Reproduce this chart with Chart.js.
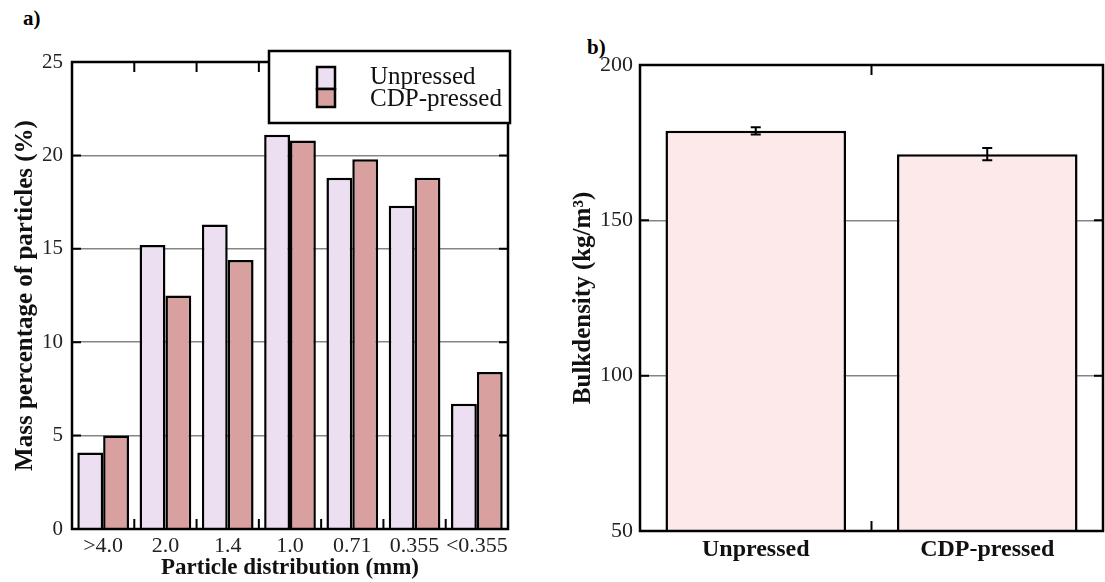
<!DOCTYPE html>
<html>
<head>
<meta charset="utf-8">
<script src="https://cdn.jsdelivr.net/npm/chart.js@4"></script>
<style>
  body { margin: 0; background: #fff; width: 1105px; height: 582px; overflow: hidden; position: relative; font-family: "Liberation Serif", serif; }
  .panel { position: absolute; top: 0; height: 582px; }
  .tag { position: absolute; font-weight: bold; font-size: 21px; }
</style>
</head>
<body>
<div class="tag" style="left:23px;top:6px;">a)</div>
<div class="tag" style="left:587px;top:35px;">b)</div>
<div class="panel" style="left:0;width:560px;"><canvas id="dist"></canvas></div>
<div class="panel" style="left:560px;width:545px;"><canvas id="bulk"></canvas></div>
<script>
// particle size classes (mm)
var sizeClasses = [">4.0", "2.0", "1.4", "1.0", "0.71", "0.355", "<0.355"];
var unpressedPct = [4.1, 15.2, 16.3, 21.1, 18.8, 17.3, 6.7];
var cdpPressedPct = [5.0, 12.5, 14.4, 20.8, 19.8, 18.8, 8.4];
var distTicks = [0, 5, 10, 15, 20, 25];

// bulk density (kg/m3)
var samples = ["Unpressed", "CDP-pressed"];
var bulkDensity = [178.8, 171.3];
var bulkErr = [1.2, 2.0];
var bulkTicks = [50, 100, 150, 200];

var serif = "'Liberation Serif', serif";

// frame + inward ticks, like the original plotting program
var framePlugin = {
  id: "frame",
  afterDatasetsDraw: function (chart) {
    var c = chart.ctx, a = chart.chartArea, x = chart.scales.x, y = chart.scales.y;
    c.save();
    c.strokeStyle = "#000";
    c.lineWidth = 2.5;
    c.strokeRect(a.left, a.top, a.right - a.left, a.bottom - a.top);
    c.lineWidth = 2;
    c.beginPath();
    y.ticks.forEach(function (t) {
      var py = y.getPixelForValue(t.value);
      if (py <= a.top + 1 || py >= a.bottom - 1) return;
      c.moveTo(a.left, py); c.lineTo(a.left + 9, py);
      c.moveTo(a.right, py); c.lineTo(a.right - 9, py);
    });
    for (var i = 0; i < x.ticks.length - 1; i++) {
      var px = (x.getPixelForTick(i) + x.getPixelForTick(i + 1)) / 2;
      c.moveTo(px, a.bottom); c.lineTo(px, a.bottom - 10);
      c.moveTo(px, a.top); c.lineTo(px, a.top + 10);
    }
    c.stroke();
    c.restore();
  }
};

var legendPlugin = {
  id: "boxLegend",
  afterDraw: function (chart) {
    var c = chart.ctx;
    c.save();
    c.fillStyle = "#fff";
    c.fillRect(269, 51, 241, 72);
    c.strokeStyle = "#000";
    c.lineWidth = 2.5;
    c.strokeRect(269, 51, 241, 72);
    var ds = chart.data.datasets;
    var rows = [[67, 22], [89, 18]];
    ds.forEach(function (d, i) {
      c.fillStyle = d.backgroundColor;
      c.fillRect(317, rows[i][0], 18, rows[i][1]);
      c.lineWidth = 2.5;
      c.strokeRect(317, rows[i][0], 18, rows[i][1]);
    });
    c.fillStyle = "#111";
    c.font = "25px " + serif;
    c.textBaseline = "middle";
    c.fillText(ds[0].label, 370, 77);
    c.fillText(ds[1].label, 370, 99);
    c.restore();
  }
};

var errPlugin = {
  id: "errBars",
  afterDatasetsDraw: function (chart) {
    var c = chart.ctx, y = chart.scales.y;
    var meta = chart.getDatasetMeta(0);
    c.save();
    c.strokeStyle = "#000";
    c.lineWidth = 2;
    meta.data.forEach(function (bar, i) {
      var v = bulkDensity[i], e = bulkErr[i];
      var y1 = y.getPixelForValue(v + e), y2 = y.getPixelForValue(v - e);
      c.beginPath();
      c.moveTo(bar.x, y1); c.lineTo(bar.x, y2);
      c.moveTo(bar.x - 5, y1); c.lineTo(bar.x + 5, y1);
      c.moveTo(bar.x - 5, y2); c.lineTo(bar.x + 5, y2);
      c.stroke();
    });
    c.restore();
  }
};

function fixedScale(w, h) {
  return function (s) { if (w) s.width = w; if (h) s.height = h; };
}

new Chart(document.getElementById("dist"), {
  type: "bar",
  data: {
    labels: sizeClasses,
    datasets: [
      { label: "Unpressed", data: unpressedPct, backgroundColor: "#ecdff1", borderColor: "#000", borderWidth: 2.5 },
      { label: "CDP-pressed", data: cdpPressedPct, backgroundColor: "#d9a0a0", borderColor: "#000", borderWidth: 2.5 }
    ]
  },
  options: {
    responsive: true,
    maintainAspectRatio: false,
    animation: false,
    layout: { padding: { top: 62, right: 52, left: 0, bottom: 0 } },
    plugins: { legend: { display: false }, tooltip: { enabled: false } },
    datasets: { bar: { categoryPercentage: 0.83, barPercentage: 1.0 } },
    scales: {
      x: {
        afterFit: fixedScale(null, 53),
        grid: { display: false, drawTicks: false },
        border: { display: false },
        ticks: { color: "#222", font: { family: serif, size: 22 }, padding: 4, maxRotation: 0, autoSkip: false },
        title: { display: true, text: "Particle distribution (mm)", color: "#111", font: { family: serif, size: 23, weight: "bold" }, padding: 0 }
      },
      y: {
        min: 0, max: 25,
        afterFit: fixedScale(72, null),
        afterBuildTicks: function (s) { s.ticks = distTicks.map(function (v) { return { value: v }; }); },
        grid: { color: "#858585", lineWidth: 1.5, drawTicks: false },
        border: { display: false },
        ticks: { color: "#222", font: { family: serif, size: 21 }, padding: 9 },
        title: { display: true, text: "Mass percentage of particles (%)", color: "#111", font: { family: serif, size: 25, weight: "bold" }, padding: { top: 11, bottom: 0 } }
      }
    }
  },
  plugins: [framePlugin, legendPlugin]
});

new Chart(document.getElementById("bulk"), {
  type: "bar",
  data: {
    labels: samples,
    datasets: [
      { label: "Bulk density", data: bulkDensity, backgroundColor: "#fde8ea", borderColor: "#000", borderWidth: 2.5 }
    ]
  },
  options: {
    responsive: true,
    maintainAspectRatio: false,
    animation: false,
    layout: { padding: { top: 65, right: 2, left: 0, bottom: 0 } },
    plugins: { legend: { display: false }, tooltip: { enabled: false } },
    datasets: { bar: { categoryPercentage: 0.78, barPercentage: 1.0 } },
    scales: {
      x: {
        afterFit: fixedScale(null, 51),
        grid: { display: false, drawTicks: false },
        border: { display: false },
        ticks: { color: "#111", font: { family: serif, size: 24, weight: "bold" }, padding: 4, maxRotation: 0 }
      },
      y: {
        min: 50, max: 200,
        afterFit: fixedScale(80, null),
        afterBuildTicks: function (s) { s.ticks = bulkTicks.map(function (v) { return { value: v }; }); },
        grid: { color: "#858585", lineWidth: 1.5, drawTicks: false },
        border: { display: false },
        ticks: { color: "#222", font: { family: serif, size: 22 }, padding: 7 },
        title: { display: true, text: "Bulkdensity (kg/m\u00b3)", color: "#111", font: { family: serif, size: 25, weight: "bold" }, padding: { top: 9, bottom: 0 } }
      }
    }
  },
  plugins: [framePlugin, errPlugin]
});
</script>
</body>
</html>
